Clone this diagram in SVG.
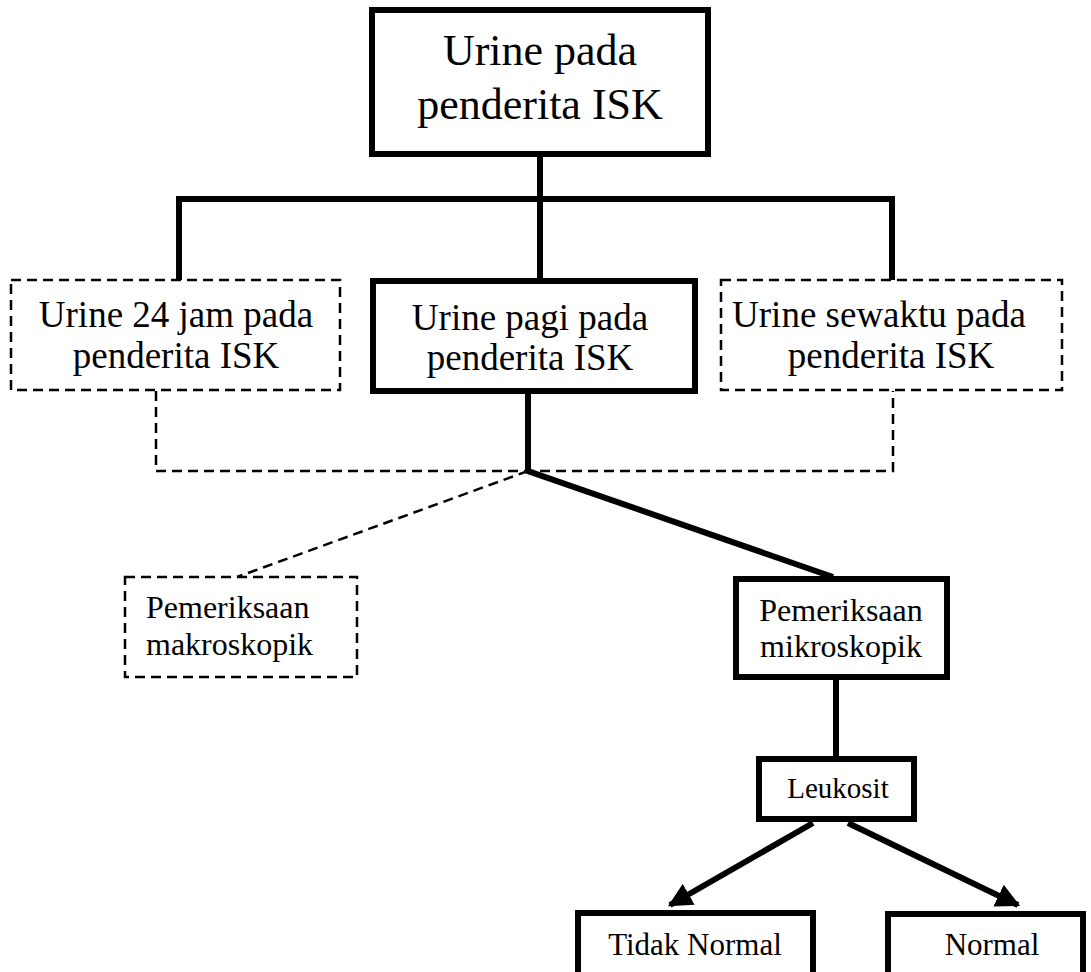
<svg xmlns="http://www.w3.org/2000/svg" width="1091" height="972" viewBox="0 0 1091 972">
<style>
text{font-family:"Liberation Serif","Times New Roman",serif;fill:#000;text-anchor:middle}
.solid{fill:#fff;stroke:#000;stroke-width:6}
.dash{fill:#fff;stroke:#000;stroke-width:2.5;stroke-dasharray:10 6}
.c{fill:none;stroke:#000;stroke-width:6}
.cd{fill:none;stroke:#000;stroke-width:2.5;stroke-dasharray:10 6}
</style>
<defs>
<marker id="arr" viewBox="0 0 10 10" refX="9" refY="5" markerWidth="4" markerHeight="4" markerUnits="strokeWidth" orient="auto">
<path d="M0,0L10,5L0,10z" fill="#000"/>
</marker>
</defs>
<rect width="1091" height="972" fill="#fff"/>
<g id="connectors">
<path class="c" d="M540,157V199M179,282V199H892V282M540,199V281"/>
<path class="c" d="M528,391V471L833,577"/>
<path class="cd" d="M156,391V471H893V391"/>
<path class="cd" d="M528,471L237,577"/>
<path class="c" d="M836,677V759"/>
<line class="c" x1="813" y1="823" x2="670" y2="905" marker-end="url(#arr)"/>
<line class="c" x1="848" y1="823" x2="1018" y2="905" marker-end="url(#arr)"/>
</g>
<g id="n1"><rect class="solid" x="372" y="10" width="336" height="144"/>
<text font-size="44" x="540" y="65">Urine pada</text><text font-size="44" x="540" y="119">penderita ISK</text></g>
<g id="n2"><rect class="dash" x="11" y="280" width="329" height="110"/>
<text font-size="37" x="176" y="327">Urine 24 jam pada</text><text font-size="37" x="176" y="368">penderita ISK</text></g>
<g id="n3"><rect class="solid" x="373" y="281" width="322" height="110"/>
<text font-size="37" x="530" y="330">Urine pagi pada</text><text font-size="37" x="530" y="370">penderita ISK</text></g>
<g id="n4"><rect class="dash" x="721" y="280" width="341" height="110"/>
<text font-size="37" x="879" y="327">Urine sewaktu pada</text><text font-size="37" x="891" y="368">penderita ISK</text></g>
<g id="n5"><rect class="dash" x="125" y="577" width="232" height="100"/>
<text font-size="32" x="146" y="618" style="text-anchor:start">Pemeriksaan</text><text font-size="32" x="146" y="655" style="text-anchor:start">makroskopik</text></g>
<g id="n6"><rect class="solid" x="736" y="579" width="211" height="98"/>
<text font-size="32" x="841" y="621">Pemeriksaan</text><text font-size="32" x="841" y="657">mikroskopik</text></g>
<g id="n7"><rect class="solid" x="759" y="759" width="155" height="60"/>
<text font-size="29" x="838" y="798">Leukosit</text></g>
<g id="n8"><rect class="solid" x="578" y="913" width="235" height="70"/>
<text font-size="31" x="695" y="955">Tidak Normal</text></g>
<g id="n9"><rect class="solid" x="888" y="914" width="195" height="70"/>
<text font-size="31" x="992" y="955">Normal</text></g>
</svg>
